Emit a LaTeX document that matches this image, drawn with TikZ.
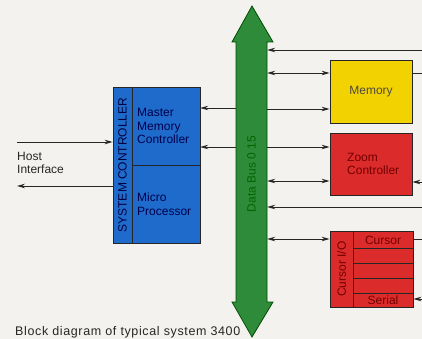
\documentclass[tikz,border=0pt]{standalone}
\usepackage{fontspec}
\setmainfont{Liberation Sans}
\usepackage{tikz}
\usetikzlibrary{arrows.meta}
\definecolor{paper}{HTML}{F4F2EE}
\definecolor{sysblue}{HTML}{1F6BCB}
\definecolor{busgreen}{HTML}{2E8B3A}
\definecolor{memyellow}{HTML}{F2D200}
\definecolor{zoomred}{HTML}{DC2B2B}
\newcommand{\corPaper}{paper}
\newcommand{\corSys}{sysblue}
\newcommand{\corBus}{busgreen}
\newcommand{\corMem}{memyellow}
\newcommand{\corRed}{zoomred}
\newcommand{\corWire}{black!85}

\begin{document}
\begin{tikzpicture}[x=1pt,y=-1pt,
    box/.style={draw=\corWire, line width=0.8pt, inner sep=0pt},
    wire/.style={draw=\corWire, line width=0.9pt},
    tip/.style={wire, -{Stealth[length=8pt,width=4.5pt]}},
    both/.style={wire, {Stealth[length=8pt,width=4.5pt]}-{Stealth[length=8pt,width=4.5pt]}},
    lbl/.style={font=\fontsize{12}{13.5}\selectfont, inner sep=0pt, align=left}]
    % paper
    \fill[\corPaper] (0,0) rectangle (422,339);
    \useasboundingbox (0,0) rectangle (422,339);

    % system controller
    \node (sysc) [box, fill=\corSys, minimum width=87pt, minimum height=156pt] at (156.5,165) {};
    \node (mmc) [minimum width=68pt, minimum height=78pt, inner sep=0pt] at (166,126) {};
    \node (mpu) [minimum width=68pt, minimum height=78pt, inner sep=0pt] at (166,204) {};
    \draw[box] (132,87) -- (132,243);
    \draw[box] (132,165) -- (200,165);
    \node[lbl, rotate=90, text=black!75!blue] at (122.5,165) {SYSTEM CONTROLLER};
    \node[lbl, anchor=west, text=black!70!blue] at (137,126) {Master\\Memory\\Controller};
    \node[lbl, anchor=west, text=black!70!blue] at (137,204) {Micro\\Processor};

    % memory
    \node (mem) [box, fill=\corMem, minimum width=82pt, minimum height=63pt] at (371,91.5) {};
    \node[lbl, text=black!80!yellow] at (mem) {Memory};

    % zoom controller
    \node (zoom) [box, fill=\corRed, minimum width=82pt, minimum height=62pt] at (371,164) {};
    \node[lbl, anchor=west, text=black!55!red] at (347,164) {Zoom\\Controller};

    % cursor i/o
    \node (cio) [box, fill=\corRed, minimum width=83pt, minimum height=76pt] at (371.5,269) {};
    \draw[box] (353,231) -- (353,307);
    \foreach \y in {248,263,278,293}
        \draw[box] (353,\y) -- (413,\y);
    \node[lbl, rotate=90, text=black!55!red] at (341.5,269) {Cursor I/O};
    \node (crs) [lbl, text=black!55!red] at (383,240) {Cursor};
    \node (ser) [lbl, text=black!55!red] at (383,300.5) {Serial};

    % outside ends
    \coordinate (hostin) at (17,142);
    \coordinate (hostout) at (17,186);
    \coordinate (in1) at (422,50);
    \coordinate (in2) at (422,207);
    \coordinate (out1) at (422,73);
    \coordinate (out2) at (422,182);
    \coordinate (out3) at (422,239);
    \coordinate (out4) at (422,299);

    % data bus
    \node (bus) [minimum width=31pt, minimum height=260pt, inner sep=0pt] at (251.5,172) {};
    \filldraw[fill=\corBus, draw=black!70!green, line width=0.8pt]
        (236,42) -- (232,42) -- (252,6) -- (273,42) -- (267,42) -- (267,302)
        -- (273,302) -- (252,337) -- (232,302) -- (236,302) -- cycle;
    \node[lbl, rotate=90, text=black!60!green] at (bus.center |- 0,174) {Data Bus 0 15};

    % wires
    \draw[tip] ([yshift=18pt]mmc.east -| bus.west) -- ([yshift=18pt]mmc.east);
    \draw[tip] ([yshift=-21pt]mmc.east -| bus.west) -- ([yshift=-21pt]mmc.east);
    \draw[tip] (in1) -- (in1 -| bus.east);
    \draw[both] ([yshift=18.5pt]mem.west -| bus.east) -- ([yshift=18.5pt]mem.west);
    \draw[tip] ([yshift=-17.5pt]mem.west -| bus.east) -- ([yshift=-17.5pt]mem.west);
    \draw[wire] (mem.east |- out1) -- (out1);
    \draw[tip] ([yshift=17pt]zoom.west -| bus.east) -- ([yshift=17pt]zoom.west);
    \draw[both] ([yshift=-17pt]zoom.west -| bus.east) -- ([yshift=-17pt]zoom.west);
    \draw[tip] (out2) -- (out2 -| zoom.east);
    \draw[tip] (in2) -- (in2 -| bus.east);
    \draw[both] ([yshift=30pt]cio.west -| bus.east) -- ([yshift=30pt]cio.west);
    \draw[wire] (cio.east |- out3) -- (out3);
    \draw[tip] (out4) -- (out4 -| cio.east);

    % host interface
    \draw[tip] (hostin) -- (hostin -| sysc.west);
    \draw[tip] (hostout -| sysc.west) -- (hostout);
    \node (host) [lbl, anchor=west, text=black!85] at (17,163) {Host\\Interface};

    % caption
    \node (cap) [lbl, anchor=west, text=black!85, font=\fontsize{12.5}{14}\selectfont\addfontfeature{LetterSpace=5}] at (15,332) {Block diagram of typical system 3400};
\end{tikzpicture}
\end{document}
